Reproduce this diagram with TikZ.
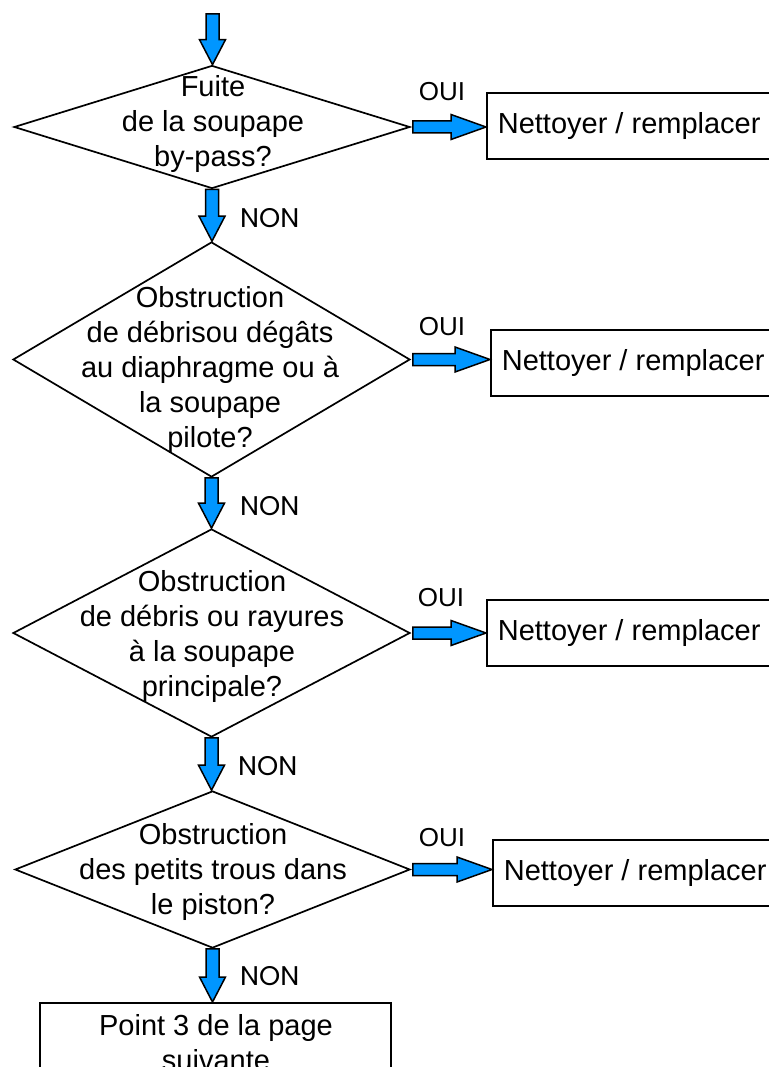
\documentclass[tikz,border=0pt]{standalone}
\usepackage{fontspec}
\setmainfont{Liberation Sans}
\newfontfamily\nonfont{Poppins}
\usetikzlibrary{shapes.geometric,calc}
\definecolor{arrowblue}{RGB}{0,150,255}
\tikzset{
 dia/.style={diamond, draw, line width=1.7pt, inner sep=0pt},
 qtext/.style={align=center, font=\fontsize{29}{35}\selectfont, inner sep=0pt},
 actbox/.style={draw, line width=1.7pt, anchor=west, minimum height=66pt, inner xsep=11pt, font=\fontsize{29}{35}\selectfont},
 oui/.style={font=\fontsize{26}{30}\selectfont, inner sep=0pt},
 non/.style={font=\nonfont\fontsize{27}{30}\selectfont, inner sep=0pt, anchor=west},
 blockarrow/.style={fill=arrowblue, draw=black, line width=1.5pt, line join=miter},
}
\newcommand{\vblock}[2]{\draw[blockarrow] let \p1=(#1), \p2=(#2) in (\x1-6.5pt,\y1) -- (\x1-6.5pt,\y2+25pt) -- (\x1-13pt,\y2+25pt) -- (\x1,\y2) -- (\x1+13pt,\y2+25pt) -- (\x1+6.5pt,\y2+25pt) -- (\x1+6.5pt,\y1) -- cycle;}
\newcommand{\hblock}[2]{\draw[blockarrow] let \p1=(#1), \p2=(#2) in (\x1+2pt,\y1+6pt) -- (\x2-35pt,\y1+6pt) -- (\x2-35pt,\y1+12.5pt) -- (\x2,\y1) -- (\x2-35pt,\y1-12.5pt) -- (\x2-35pt,\y1-6pt) -- (\x1+2pt,\y1-6pt) -- cycle;}
\begin{document}
\begin{tikzpicture}[x=1pt,y=-1pt]
\useasboundingbox (0,0) rectangle (768,1067);
\fill[white] (0,0) rectangle (768,1067);

% diamonds
\node[dia, minimum width=396pt, minimum height=123pt] (d1) at (212,127) {};
\node[dia, minimum width=397pt, minimum height=235pt] (d2) at (211.5,359.5) {};
\node[dia, minimum width=397pt, minimum height=208pt] (d3) at (211.5,633) {};
\node[dia, minimum width=395pt, minimum height=157pt] (d4) at (212.5,869.5) {};

\node[qtext] (t1) at (213,124) {Fuite\\de la soupape\\by-pass?};
\node[qtext] (t2) at (210,370) {Obstruction\\de débrisou dégâts\\au diaphragme ou à\\la soupape\\pilote?};
\node[qtext] (t3) at (212,636) {Obstruction\\de débris ou rayures\\à la soupape\\principale?};
\node[qtext] (t4) at (213,872) {Obstruction\\des petits trous dans\\le piston?};

% action boxes
\node[actbox] (b1) at (486,126) {Nettoyer / remplacer};
\node[actbox] (b2) at (490,363) {Nettoyer / remplacer};
\node[actbox] (b3) at (486,633) {Nettoyer / remplacer};
\node[actbox] (b4) at (492,873) {Nettoyer / remplacer};

\node[draw, line width=1.7pt, minimum width=351pt, minimum height=100pt, anchor=north] (b5) at (215.5,1002) {};
\node[qtext] (t5) at (216,1043) {Point 3 de la page\\suivante};

% labels
\node[oui] (o1) at (442,92) {OUI};
\node[oui] (o2) at (442,327) {OUI};
\node[oui] (o3) at (441,598) {OUI};
\node[oui] (o4) at (442,838) {OUI};

\node[non] (n1) at (240,218) {NON};
\node[non] (n2) at (240,506) {NON};
\node[non] (n3) at (238,766) {NON};
\node[non] (n4) at (240,976) {NON};

% arrows
\coordinate (start) at (212.5,14);
\vblock{start}{d1.north}
\vblock{d1.south}{d2.north}
\vblock{d2.south}{d3.north}
\vblock{d3.south}{d4.north}
\vblock{d4.south}{b5.north}

\hblock{d1.east}{b1.west}
\hblock{d2.east}{b2.west}
\hblock{d3.east}{b3.west}
\hblock{d4.east}{b4.west}
\end{tikzpicture}
\end{document}
